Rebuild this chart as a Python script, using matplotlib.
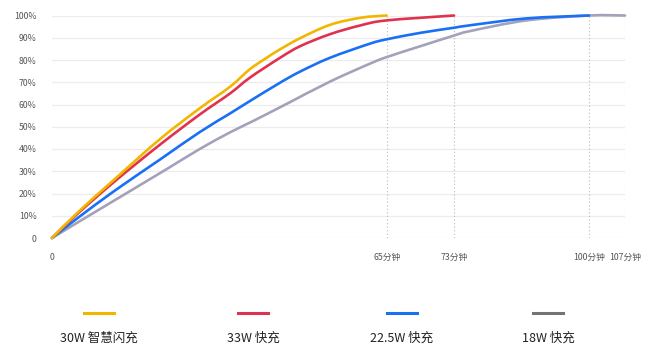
import matplotlib.pyplot as plt
import numpy as np
from matplotlib.lines import Line2D
from matplotlib.path import Path
from matplotlib.patches import PathPatch
from matplotlib.transforms import IdentityTransform

plt.rcParams['font.family'] = ['Noto Sans CJK SC', 'DejaVu Sans']

# data (minutes, % charged)
t_30w = [0, 5, 12.2, 21, 28.7, 34.6, 38.4, 41.7, 44.3, 48.2, 54, 60, 65]
p_30w = [0, 11.5, 26.5, 44.5, 58.3, 68, 75.8, 81, 84.8, 89.8, 95.8, 99, 100]
t_33w = [0, 5, 12.2, 21, 28.7, 34.6, 38.4, 44.3, 48.2, 54, 60, 65, 73]
p_33w = [0, 11, 25.5, 42, 55.5, 65, 72, 81, 86.2, 91.6, 95.6, 97.8, 100]
t_22w = [0, 5, 12.2, 21, 28.7, 34.6, 38.4, 44.3, 48.2, 54, 61.7, 65, 69, 73, 76.2, 87.5, 100]
p_22w = [0, 9, 21.3, 35.3, 47.6, 56, 61.5, 69.8, 74.8, 81, 87.3, 89.3, 92.2, 94.5, 95.6, 98.7, 100]
t_18w = [0, 5, 12.2, 22.3, 28.7, 34.6, 39, 45.6, 54, 61.7, 65, 69, 73, 76.2, 87.5, 100, 107]
p_18w = [0, 7, 17, 31, 40, 47.5, 52.5, 60.3, 70.3, 78.3, 81.3, 86.2, 91, 93, 97.8, 100, 100]

names = ['30W 智慧闪充', '33W 快充', '22.5W 快充', '18W 快充']
end_minutes = [65, 73, 100, 107]
end_labels = ['65分钟', '73分钟', '100分钟', '107分钟']
y_ticks = [0, 10, 20, 30, 40, 50, 60, 70, 80, 90, 100]

line_colors = ['#f2b600', '#e0324f', '#1a70f5', '#a4a2ba']
legend_colors = ['#f2b600', '#e0324f', '#1a70f5', '#737373']

# the x axis in the picture is not linear: stretch between tick minutes
scale_min = [0, 65, 73, 100, 107]
scale_pos = [0, 65, 78.1, 104.3, 111.3]
fwd = lambda x: np.interp(x, scale_min, scale_pos)
inv = lambda x: np.interp(x, scale_pos, scale_min)


def smooth_path(pts):
    # catmull-rom through the points, as cubic beziers
    p = np.vstack([pts[0], pts, pts[-1]])
    verts = [p[1]]
    codes = [Path.MOVETO]
    for i in range(1, len(p) - 2):
        c1 = p[i] + (p[i + 1] - p[i - 1]) / 6
        c2 = p[i + 1] - (p[i + 2] - p[i]) / 6
        verts += [c1, c2, p[i + 1]]
        codes += [Path.CURVE4] * 3
    return Path(verts, codes)


fig = plt.figure(figsize=(6.54, 3.63), dpi=100, facecolor='white')
ax = fig.add_axes([52 / 654, 1 - 238 / 363, (625 - 52) / 654, (238 - 15.5) / 363])
ax.set_xscale('function', functions=(fwd, inv))
ax.set_xlim(0, 107)
ax.set_ylim(0, 100)

for yv in y_ticks:
    ax.axhline(yv, color='#ececec', lw=0.9, zorder=0)
for xv in end_minutes:
    ax.plot([xv, xv], [0, 100], color='#c4c4c4', lw=0.8, ls=(0, (1.2, 2)), zorder=1)

series = [(t_30w, p_30w), (t_33w, p_33w), (t_22w, p_22w), (t_18w, p_18w)]
for i, ((t, p), c) in enumerate(reversed(list(zip(series, line_colors)))):
    disp = ax.transData.transform(np.column_stack([t, p]))
    fig.add_artist(PathPatch(smooth_path(disp), fill=False, edgecolor=c, lw=1.9,
                             capstyle='round', joinstyle='round',
                             transform=IdentityTransform(), zorder=3 + i))

ax.set_yticks(y_ticks)
ax.set_yticklabels(['0'] + ['%d%%' % v for v in y_ticks[1:]])
ax.set_xticks([0] + end_minutes)
ax.set_xticklabels(['0'] + end_labels)
ax.tick_params(axis='y', length=0, pad=11, labelsize=6.3, labelcolor='#555555')
ax.tick_params(axis='x', length=0, pad=11, labelsize=6.3, labelcolor='#555555')
for s in ax.spines.values():
    s.set_visible(False)

# legend: short bar with the name below it
centers = [99, 253, 402, 548]
for cx, name, c in zip(centers, names, legend_colors):
    fig.add_artist(Line2D([(cx - 15) / 654, (cx + 15) / 654], [1 - 313 / 363] * 2,
                          color=c, lw=2.2, transform=fig.transFigure))
    fig.text(cx / 654, 1 - 338 / 363, name, ha='center', va='center',
             fontsize=9, color='#222222')

fig.savefig('out.png', dpi=100)
